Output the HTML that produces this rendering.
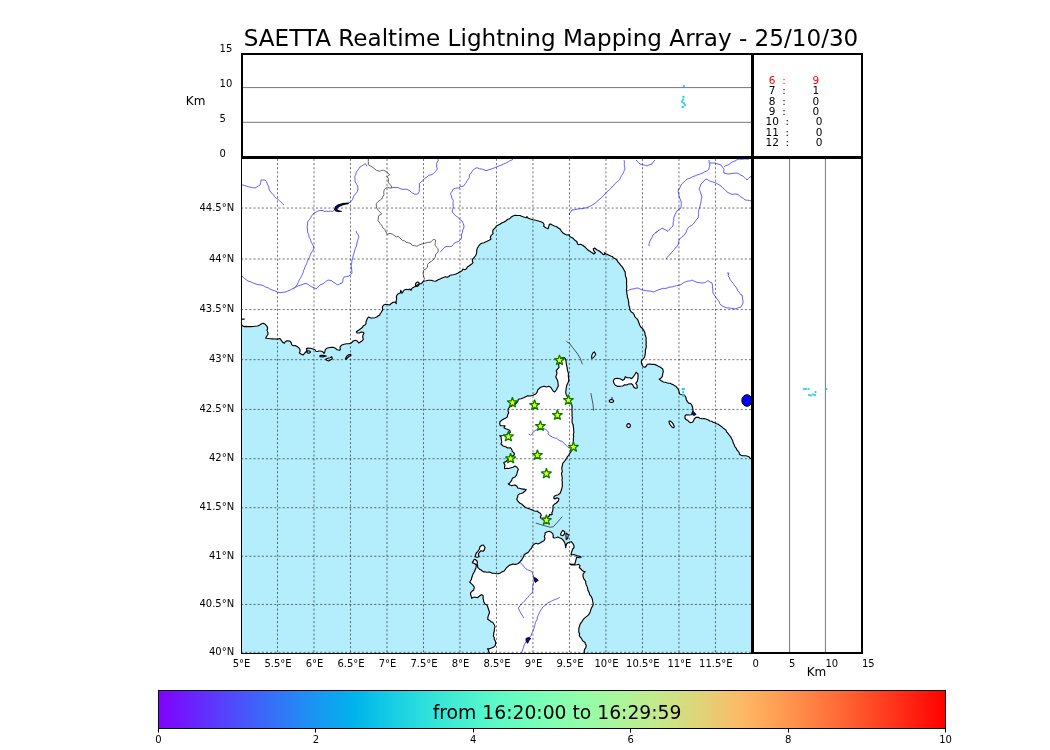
<!DOCTYPE html><html><head><meta charset="utf-8"><style>html,body{margin:0;padding:0;background:#fff;width:1050px;height:750px;overflow:hidden}</style></head><body><svg width="1050" height="750" viewBox="0 0 1050 750" style="position:absolute;left:0;top:0;will-change:transform">
<defs><clipPath id="mc"><rect x="241.5" y="157.5" width="510.5" height="495.5"/></clipPath>
<linearGradient id="rb" x1="0" x2="1" y1="0" y2="0"><stop offset="0.0000" stop-color="rgb(128,0,255)"/><stop offset="0.0312" stop-color="rgb(112,25,255)"/><stop offset="0.0625" stop-color="rgb(96,50,254)"/><stop offset="0.0938" stop-color="rgb(80,74,252)"/><stop offset="0.1250" stop-color="rgb(64,98,250)"/><stop offset="0.1562" stop-color="rgb(48,120,247)"/><stop offset="0.1875" stop-color="rgb(32,142,244)"/><stop offset="0.2188" stop-color="rgb(16,162,240)"/><stop offset="0.2500" stop-color="rgb(0,180,236)"/><stop offset="0.2812" stop-color="rgb(16,197,231)"/><stop offset="0.3125" stop-color="rgb(32,212,225)"/><stop offset="0.3438" stop-color="rgb(48,225,219)"/><stop offset="0.3750" stop-color="rgb(64,236,212)"/><stop offset="0.4062" stop-color="rgb(80,244,205)"/><stop offset="0.4375" stop-color="rgb(96,250,197)"/><stop offset="0.4688" stop-color="rgb(112,254,189)"/><stop offset="0.5000" stop-color="rgb(128,255,180)"/><stop offset="0.5312" stop-color="rgb(143,254,171)"/><stop offset="0.5625" stop-color="rgb(159,250,162)"/><stop offset="0.5938" stop-color="rgb(175,244,152)"/><stop offset="0.6250" stop-color="rgb(191,236,142)"/><stop offset="0.6562" stop-color="rgb(207,225,131)"/><stop offset="0.6875" stop-color="rgb(223,212,120)"/><stop offset="0.7188" stop-color="rgb(239,197,109)"/><stop offset="0.7500" stop-color="rgb(255,180,98)"/><stop offset="0.7812" stop-color="rgb(255,162,86)"/><stop offset="0.8125" stop-color="rgb(255,142,74)"/><stop offset="0.8438" stop-color="rgb(255,120,62)"/><stop offset="0.8750" stop-color="rgb(255,98,50)"/><stop offset="0.9062" stop-color="rgb(255,74,37)"/><stop offset="0.9375" stop-color="rgb(255,50,25)"/><stop offset="0.9688" stop-color="rgb(255,25,13)"/><stop offset="1.0000" stop-color="rgb(255,0,0)"/></linearGradient></defs>
<g clip-path="url(#mc)">
<rect x="241" y="157" width="512" height="497" fill="#b4eefd"/>
<polygon points="241.0,323.5 242.3,325.8 244.4,326.6 251.3,326.6 255.0,326.3 257.7,326.0 259.7,325.0 261.7,323.7 263.3,323.3 265.3,324.3 267.0,326.3 267.7,328.3 267.0,330.3 268.0,332.7 268.0,334.3 266.7,336.3 265.7,338.3 268.3,338.5 272.3,338.9 275.0,339.0 277.7,339.1 280.0,338.5 281.3,340.3 282.7,342.3 284.3,343.3 285.3,341.7 287.0,340.7 289.7,341.0 291.0,342.3 291.7,344.7 293.7,345.7 296.7,346.3 299.0,348.0 300.0,349.7 299.3,352.7 301.0,354.0 303.0,355.0 304.3,353.7 306.0,351.7 307.0,350.3 306.3,348.7 307.7,348.0 310.3,348.3 313.0,349.0 315.0,349.7 316.0,351.3 319.0,351.0 320.0,351.0 321.7,351.3 322.7,351.7 324.0,353.3 324.7,352.3 325.3,349.7 326.7,348.3 328.7,347.7 331.3,347.3 333.3,347.3 335.3,348.3 337.3,349.7 339.3,350.3 340.3,349.7 340.0,347.0 341.3,345.3 344.0,344.3 346.7,343.7 349.3,343.7 351.3,343.0 353.3,341.0 355.3,340.3 357.3,341.0 358.7,343.0 360.0,342.3 362.0,341.0 363.3,339.3 362.7,337.0 363.0,335.0 364.0,333.3 363.3,332.3 361.3,332.0 359.3,333.0 357.0,333.0 356.3,332.0 357.3,331.0 359.3,329.7 361.3,328.3 362.7,327.0 363.3,325.7 365.0,325.0 366.0,323.7 366.0,321.7 366.7,320.3 367.3,318.3 368.7,317.0 370.7,318.0 372.7,318.0 374.7,317.7 376.7,317.0 378.0,316.0 379.7,315.0 381.3,312.3 382.7,309.7 382.3,307.0 383.7,305.0 385.7,304.3 388.3,304.7 389.7,305.0 391.0,303.7 393.0,302.3 395.0,302.0 396.3,303.7 396.3,300.3 396.3,297.0 397.0,295.0 398.3,293.7 400.3,293.0 400.7,290.3 402.0,293.3 403.0,291.7 404.3,290.0 406.3,289.3 408.3,289.7 409.7,289.0 411.0,290.3 412.0,288.3 413.7,287.3 415.7,286.3 417.0,285.3 418.3,284.3 419.7,283.7 421.0,283.7 422.0,283.0 423.0,281.7 424.3,281.0 426.3,280.7 428.3,280.2 431.0,280.3 433.7,281.0 435.7,281.3 437.7,280.0 440.0,279.0 442.7,277.7 445.3,276.7 447.3,277.3 450.0,275.3 453.3,274.7 456.0,274.0 458.0,273.0 460.0,271.7 462.0,270.7 463.0,269.0 464.7,269.7 466.3,269.0 467.3,267.0 469.3,265.7 471.3,264.3 473.0,262.7 472.3,261.0 472.7,259.0 474.0,257.7 475.3,256.0 476.3,254.3 476.7,252.3 476.7,250.3 477.3,248.3 478.7,246.0 480.0,244.3 481.7,243.3 484.0,242.7 486.0,241.7 487.0,241.3 489.3,240.3 491.0,239.0 490.3,237.0 491.3,235.3 493.0,233.7 492.7,231.7 493.0,230.0 494.3,228.7 495.7,227.3 496.3,226.0 498.3,225.0 500.3,224.0 501.7,223.0 503.7,222.3 505.7,221.0 507.7,219.3 509.7,218.7 511.0,217.3 513.0,216.0 515.0,215.3 517.7,215.5 520.0,215.5 521.7,216.3 523.7,217.0 526.3,217.7 527.0,216.7 528.3,218.3 530.3,219.0 533.0,219.7 535.7,220.3 538.3,221.0 541.0,221.7 543.0,222.7 544.0,224.3 543.7,226.3 545.7,227.7 548.0,228.7 548.7,227.0 549.3,224.3 550.7,224.0 552.3,225.0 555.3,226.3 558.0,227.7 560.3,229.3 561.7,231.7 562.7,232.7 564.7,234.0 566.7,235.0 569.0,234.7 570.0,236.7 572.7,238.0 575.0,240.3 577.0,241.7 578.3,244.7 580.3,244.3 582.7,245.3 585.3,247.3 587.3,249.3 590.0,251.3 592.7,253.0 593.7,254.0 595.3,252.7 593.7,250.7 593.3,248.7 594.7,248.0 596.7,249.7 599.3,251.0 601.3,252.7 603.3,254.7 605.0,254.3 604.3,252.7 606.0,253.7 608.0,254.7 610.7,256.0 613.3,257.7 615.7,259.0 617.3,260.7 619.3,263.3 622.0,266.7 624.0,270.0 625.3,274.0 626.3,278.0 626.7,281.3 626.7,285.3 626.7,288.0 626.7,291.3 627.3,295.3 628.0,298.7 628.7,302.7 629.3,306.5 630.0,309.7 631.0,311.7 633.0,313.0 634.3,315.0 635.7,317.7 637.7,319.7 638.7,322.3 639.7,325.0 640.7,327.0 642.3,328.3 643.7,330.3 645.0,333.0 645.7,336.3 646.0,340.3 646.0,344.3 646.0,348.3 645.5,351.7 645.3,353.3 644.7,356.7 643.3,359.0 641.7,360.0 641.3,362.0 642.0,364.7 643.3,366.7 645.0,367.3 646.3,366.0 647.3,364.3 650.0,364.0 653.3,364.3 656.7,365.3 660.0,367.0 662.7,369.0 663.3,371.3 662.7,374.0 662.3,376.7 660.7,378.3 659.3,379.3 661.3,380.7 663.3,382.0 666.7,382.7 670.0,383.3 673.3,384.7 676.0,386.3 678.0,388.7 679.0,391.3 679.6,394.0 682.0,394.7 684.4,395.0 685.9,397.4 687.4,401.6 688.6,403.1 690.4,403.4 691.7,405.0 692.7,407.7 693.0,410.3 692.8,411.5 691.7,414.7 689.0,415.0 686.3,414.7 685.0,415.7 685.0,418.3 687.7,420.3 690.3,422.7 692.3,422.3 693.7,420.7 694.3,418.7 696.3,417.3 698.3,417.3 699.7,418.3 702.3,418.7 705.7,419.0 708.3,420.0 711.7,421.3 715.0,422.7 718.3,424.3 721.7,426.7 725.0,429.3 727.7,433.0 730.3,436.3 731.7,439.0 733.0,442.3 734.3,445.0 736.3,448.3 738.0,451.0 739.5,454.3 741.0,455.3 744.0,455.7 747.0,456.0 750.0,458.0 752.5,460.5 753.0,460.0 753.0,156.0 240.0,156.0 240.0,325.8" fill="#fff" stroke="none"/>
<polygon points="560.5,358.3 562.5,357.8 564.3,357.7 565.3,358.7 566.0,360.7 566.3,363.3 566.7,366.0 567.3,369.3 568.0,372.0 568.3,375.3 568.7,378.7 568.7,380.7 568.0,382.7 567.0,384.7 566.3,387.3 566.0,390.0 565.7,392.7 566.3,394.7 567.3,396.7 568.5,399.0 570.0,401.5 571.5,404.0 572.0,408.0 572.0,412.0 572.0,416.0 572.0,420.0 572.3,423.3 573.3,426.7 573.7,430.7 573.3,434.7 573.3,438.7 573.3,442.7 573.0,447.0 570.7,452.0 568.7,455.3 566.7,458.3 564.7,461.0 562.7,463.3 562.3,466.0 562.0,470.0 561.7,475.0 562.3,477.7 562.0,480.3 562.3,483.7 562.3,486.3 561.7,489.0 561.0,491.0 560.3,493.0 558.3,494.7 556.3,495.3 554.3,496.3 553.7,498.0 555.0,499.0 557.0,497.7 559.0,498.7 558.3,501.0 556.3,503.0 554.3,504.3 553.0,505.7 553.0,508.3 552.7,511.0 551.7,513.0 552.3,514.3 551.0,515.0 549.7,514.3 549.0,516.3 546.3,517.7 543.7,518.0 541.0,518.3 540.3,517.0 541.3,515.0 540.3,513.3 538.3,512.3 537.7,511.0 534.3,511.0 531.7,509.7 529.0,508.7 526.3,507.7 523.7,506.0 522.0,504.3 519.7,503.0 517.7,501.0 516.7,499.0 517.7,497.0 518.0,495.0 519.7,493.7 523.0,492.7 525.0,491.0 526.3,489.7 524.3,489.0 521.0,488.7 517.7,488.0 517.0,486.3 515.0,485.0 511.7,485.7 508.3,484.0 509.7,483.0 511.7,480.3 512.3,478.3 515.0,477.0 516.7,474.7 517.3,472.0 518.3,469.3 517.0,467.3 515.0,466.0 513.0,467.3 510.3,468.0 507.0,468.3 504.7,468.7 505.0,465.3 503.7,462.7 506.3,461.3 511.7,456.7 514.3,455.0 514.3,453.3 512.3,451.3 511.7,449.3 510.3,447.7 507.7,448.0 505.7,446.7 503.0,446.0 501.0,444.0 501.7,442.0 501.3,439.3 501.0,436.7 499.7,435.7 503.0,435.5 506.0,435.0 509.0,433.5 510.3,432.3 510.0,431.0 508.7,429.7 506.3,429.0 504.0,427.7 505.0,425.7 503.0,425.7 500.3,425.7 499.7,423.7 500.0,421.7 501.7,420.3 503.7,419.0 505.7,418.0 507.3,417.0 507.7,414.7 508.7,412.7 508.0,411.0 508.3,408.7 509.7,407.0 512.3,405.7 515.0,404.3 516.3,403.0 517.7,401.7 518.3,399.3 521.0,398.7 523.7,397.7 525.7,396.7 527.7,395.7 530.3,396.0 533.0,395.3 535.7,394.0 537.0,392.3 537.7,390.0 539.3,388.3 541.3,387.0 544.0,386.3 546.7,387.0 548.7,386.3 550.7,387.3 552.0,389.3 553.3,391.3 554.7,392.0 556.3,390.0 557.3,388.0 558.3,386.0 558.0,383.3 557.7,380.7 556.7,378.7 555.7,376.7 556.3,375.3 557.0,373.3 556.3,370.7 557.3,369.3 559.0,367.3 558.7,364.7 559.5,361.0" fill="#fff" stroke="none"/>
<polygon points="489.3,656.0 489.3,652.7 488.3,650.0 487.5,648.8 490.7,648.3 493.3,647.3 495.3,645.3 495.7,642.7 494.3,639.3 493.3,636.0 493.7,632.7 494.3,629.3 495.0,626.7 494.3,624.7 492.7,622.3 490.0,620.7 487.7,619.3 488.0,616.7 489.3,613.3 488.7,610.0 488.0,607.7 487.0,605.0 485.0,604.0 483.7,601.7 483.0,598.3 482.7,595.0 481.3,594.7 479.3,596.3 477.3,597.7 474.7,597.0 472.7,597.5 471.7,598.3 471.0,595.7 470.7,592.7 472.0,591.3 473.7,590.0 474.3,587.3 473.3,585.7 471.3,583.7 469.7,582.0 471.3,579.7 471.7,577.7 472.7,575.0 473.0,574.0 474.7,571.3 476.0,568.0 476.3,565.0 474.5,563.5 472.3,562.7 473.7,560.0 475.0,559.3 477.0,561.0 477.0,564.0 477.7,567.3 479.7,569.3 482.3,571.0 485.7,572.0 489.7,572.0 492.3,573.3 496.3,573.7 500.3,573.0 503.7,571.3 505.7,568.7 507.7,566.7 511.0,564.7 514.3,564.3 517.7,563.7 519.7,562.3 521.7,560.0 523.3,557.3 524.0,555.0 526.3,553.3 529.0,551.3 530.0,549.7 532.0,547.0 534.0,544.3 536.0,543.3 538.0,544.0 540.0,543.0 542.0,541.7 544.0,540.7 545.0,538.7 544.3,536.3 545.0,533.0 546.7,532.0 549.3,531.3 551.3,532.3 552.7,533.7 553.3,535.7 553.0,537.0 554.0,538.0 556.0,537.7 558.0,537.0 559.3,537.7 560.7,538.3 562.0,539.0 563.3,540.3 564.7,542.3 565.3,545.0 565.7,547.7 566.0,545.7 566.7,543.7 568.0,542.7 570.0,542.0 571.3,541.7 572.7,543.3 574.0,545.7 574.0,547.7 572.7,549.0 572.0,551.0 571.3,553.0 571.0,555.0 573.3,554.5 575.3,555.0 577.3,555.7 579.3,556.3 581.3,557.0 579.3,557.7 576.7,557.0 576.0,559.7 575.3,562.3 574.7,564.3 572.7,564.3 570.0,564.0 571.3,565.0 575.3,565.0 578.7,564.3 580.0,565.7 579.3,567.7 582.0,570.3 585.3,571.7 583.3,573.7 582.9,575.0 583.4,577.9 585.7,581.3 586.8,585.9 588.0,590.4 589.7,594.9 592.0,598.3 593.1,602.9 592.5,606.3 590.8,609.7 589.7,613.1 587.4,615.9 585.1,617.6 582.3,621.0 580.0,624.4 578.9,627.8 578.9,632.4 580.0,636.9 582.3,640.3 585.1,642.6 586.3,645.4 584.6,649.4 584.0,656.0 585.8,655.0 488.6,655.0" fill="#fff" stroke="none"/>
<polygon points="613.7,380.0 614.7,378.7 617.3,378.3 620.0,378.7 622.7,380.3 624.3,379.3 625.3,376.7 627.3,377.7 630.0,377.7 631.3,378.7 633.0,377.3 634.7,374.7 636.3,372.3 638.0,374.0 638.0,378.0 637.3,381.3 635.7,383.3 637.0,385.3 637.3,388.0 635.3,388.3 633.7,387.0 632.7,384.7 631.3,383.7 628.7,384.0 626.7,385.0 624.7,384.7 622.7,386.0 620.0,386.3 617.3,386.3 615.3,385.3 614.0,383.3 613.3,381.3" fill="#fff" stroke="none"/>
<polygon points="475.0,556.7 475.7,554.7 476.3,553.0 478.0,551.3 479.3,549.3 480.0,546.7 481.7,545.3 483.3,545.0 485.0,547.3 484.3,550.0 483.0,551.3 481.0,550.7 479.7,552.0 478.3,554.0 479.0,556.7 477.0,557.3" fill="#fff" stroke="none"/>
<polygon points="591.7,356.7 592.0,354.7 593.0,353.0 594.3,351.8 595.7,354.3 594.7,356.0 593.0,358.0 591.7,358.3" fill="#fff" stroke="none"/>
<polygon points="613.6,401.0 613.3,401.7 612.5,402.2 611.4,402.4 610.3,402.2 609.5,401.7 609.2,401.0 609.5,400.3 610.3,399.8 611.4,399.6 612.5,399.8 613.3,400.3" fill="#fff" stroke="none"/>
<polygon points="630.4,425.6 630.2,426.6 629.5,427.3 628.6,427.6 627.7,427.3 627.0,426.6 626.8,425.6 627.0,424.6 627.7,423.9 628.6,423.6 629.5,423.9 630.2,424.6" fill="#fff" stroke="none"/>
<polygon points="673.9,427.6 673.0,427.6 671.7,426.7 670.4,425.2 669.4,423.4 669.0,421.9 669.3,421.0 670.2,421.0 671.5,421.9 672.8,423.4 673.8,425.2 674.2,426.7" fill="#fff" stroke="none"/>
<polygon points="325.7,359.3 328.0,358.3 330.0,357.7 331.7,356.7 332.3,358.7 330.7,359.7 328.7,361.0 326.7,360.3" fill="#fff" stroke="none"/>
<polygon points="320.0,355.5 323.0,355.2 326.3,356.0 323.0,356.9 320.0,356.8" fill="#fff" stroke="none"/>
<polygon points="345.3,359.0 346.7,356.3 348.7,354.7 350.7,354.3 351.0,355.3 349.3,356.3 347.3,358.0 346.0,359.3" fill="#fff" stroke="none"/>
<polygon points="310.4,352.0 310.2,352.6 309.5,353.0 308.6,353.1 307.7,353.0 307.0,352.6 306.8,352.0 307.0,351.4 307.7,351.0 308.6,350.9 309.5,351.0 310.2,351.4" fill="#fff" stroke="none"/>
<polygon points="560.7,533.7 562.7,530.3 564.7,531.7 564.3,534.3 562.7,535.7 560.7,535.0" fill="#fff" stroke="none"/>
<polygon points="566.0,533.0 568.3,534.7 567.7,538.3 566.3,539.7 566.0,535.7" fill="#fff" stroke="none"/>
<polygon points="418.8,285.1 418.0,285.9 417.0,286.4 416.2,286.2 415.6,285.5 415.5,284.5 415.8,283.3 416.6,282.5 417.6,282.0 418.4,282.2 419.0,282.9 419.1,283.9" fill="#fff" stroke="none"/>
<polyline points="242.0,185.0 244.1,185.3 246.0,186.0 248.0,186.7 250.0,187.0 252.5,187.6 255.0,188.0 256.8,187.1 258.3,186.0 260.0,185.0 260.7,182.5 261.0,180.0 263.0,180.0 265.0,180.0 266.2,181.3 267.0,183.0 267.8,185.0 268.8,186.9 269.0,189.1 270.0,191.0 271.0,192.6 272.5,193.7 273.7,195.1 274.7,196.7 276.0,198.0 277.7,199.2 279.3,200.6 280.9,202.0 282.5,203.5 284.0,205.0" fill="none" stroke="#4f4fff" stroke-width="0.9" stroke-linejoin="round"/>
<polyline points="348.2,203.2 350.9,201.7 352.4,199.6 353.5,196.9 354.3,195.0 356.0,193.7 357.3,191.7 358.0,189.0 357.7,186.3 356.3,183.7 355.0,181.7 355.1,179.7 354.8,177.7 355.0,175.7 355.7,175.0 356.3,172.3 357.7,170.3 359.0,168.3 360.0,167.0 361.7,166.0 363.7,164.7 365.0,163.7 366.0,164.3 367.0,166.3" fill="none" stroke="#4f4fff" stroke-width="0.9" stroke-linejoin="round"/>
<polyline points="320.0,210.6 323.0,210.4 324.2,211.4 326.3,211.2 328.4,211.5 330.5,211.2 332.6,211.4 334.1,210.2" fill="none" stroke="#4f4fff" stroke-width="0.9" stroke-linejoin="round"/>
<polyline points="320.0,210.6 317.9,211.1 316.0,212.2 314.0,213.0 312.7,214.5 311.5,216.1 310.6,217.9 309.4,219.6 308.0,221.0 307.6,223.0 307.6,225.0 307.0,227.0 307.5,229.0 307.5,231.1 307.9,233.1 308.9,234.9 309.0,237.0 310.1,238.7 310.8,240.6 311.3,242.6 312.6,244.2 313.3,246.1 314.0,248.0 313.2,249.8 312.2,251.5 311.0,253.0 310.3,254.7 309.8,256.5 308.9,258.2 308.0,259.8 307.3,261.5 306.8,263.3 306.0,265.0 305.0,266.9 304.4,269.0 303.4,270.9 303.0,273.1 302.0,275.0 301.2,276.7 300.3,278.3 299.2,279.9 298.6,281.6 297.8,283.3 297.0,285.0 295.8,286.5 294.4,287.8 293.0,289.0" fill="none" stroke="#4f4fff" stroke-width="0.9" stroke-linejoin="round"/>
<polyline points="242.0,276.0 243.3,277.5 244.8,278.7 246.4,279.9 248.0,281.0 250.1,281.6 252.0,282.4 253.9,283.4 256.0,284.0 257.9,284.7 260.1,284.7 262.1,285.3 264.0,286.0 265.9,287.2 268.1,287.8 270.0,289.1 272.0,290.0 274.0,290.5 276.0,291.4 277.9,292.2 280.0,292.6 282.0,292.5 284.0,292.1 286.0,292.0 287.9,290.9 290.0,290.1 292.0,289.0 294.0,288.1 296.0,286.9 298.0,286.0 300.0,285.3 302.0,284.7 303.9,283.9 306.0,283.4 308.1,284.4 310.0,285.8 312.0,287.0 314.1,287.7 316.0,289.0 317.4,287.7 318.8,286.5 320.0,285.0 322.1,284.2 324.0,283.0 325.9,281.4 328.0,280.0 330.0,280.4 332.0,281.0 333.3,282.2 335.1,282.9 336.3,284.3 338.0,285.0 339.9,283.8 342.0,283.0 342.9,281.1 343.0,278.9 344.0,277.0 346.5,276.6 349.0,276.0 350.7,274.7 352.0,273.0 351.8,271.0 351.6,269.0 351.5,267.0 351.0,265.0 351.8,263.1 351.8,260.9 352.5,259.0 353.0,257.0 353.3,254.9 354.1,253.0 354.6,250.9 355.2,248.9 356.0,247.0 356.7,245.0 356.9,242.9 357.6,240.9 358.1,238.9 359.0,237.0 358.2,234.9 356.8,233.1 356.0,231.0" fill="none" stroke="#4f4fff" stroke-width="0.9" stroke-linejoin="round"/>
<polyline points="391.7,187.7 395.0,187.3 398.3,187.7 401.0,189.0 403.0,189.4 405.0,189.1 407.0,189.3 409.7,190.7 412.3,193.0 415.0,194.3 417.7,194.0 419.3,191.7 419.3,188.3 419.5,186.0 419.3,183.7 421.0,182.2 423.3,180.0 424.7,178.3 426.7,177.3 428.7,175.3 430.7,175.0 433.3,173.7 435.7,171.3 437.3,169.0 436.7,167.0 436.7,163.7 437.0,162.0 438.3,161.0 437.7,158.0" fill="none" stroke="#4f4fff" stroke-width="0.9" stroke-linejoin="round"/>
<polyline points="440.1,252.3 442.2,249.9 443.5,248.6 444.6,247.2 447.0,246.3 449.4,246.6 451.8,246.3 453.0,244.8 454.2,243.3 456.0,242.3 458.0,241.7 460.0,240.3 461.3,238.7 461.7,237.0 461.3,235.0 462.5,232.0 462.7,229.9 463.8,228.1 464.0,226.0 463.2,223.4 462.0,221.0 460.3,220.0 459.1,218.3 457.6,217.1 456.0,216.0 454.5,214.8 453.6,213.1 452.0,212.0 452.6,209.5 453.3,207.0 453.0,203.7 453.3,200.3 452.0,198.3 451.3,195.7 450.3,193.3 452.0,191.7 453.3,189.0 455.3,188.3 457.3,188.1 459.3,188.0 460.0,186.3 463.3,186.3 465.3,183.7 466.4,182.1 467.3,180.3 469.3,177.7 469.3,175.0 471.3,173.0 472.7,170.3 474.7,168.7 477.0,167.7 479.3,168.7 482.7,169.3 486.0,170.7 488.0,170.1 490.0,169.3 492.1,168.8 494.0,168.0 495.9,167.1 498.0,166.5 499.9,165.5 502.0,165.0 503.9,163.9 506.0,163.0 508.0,162.0 509.5,160.9 511.3,160.2 513.0,159.4" fill="none" stroke="#4f4fff" stroke-width="0.9" stroke-linejoin="round"/>
<polyline points="624.0,160.0 624.4,161.8 624.3,163.6 624.3,165.4 624.7,167.2 625.0,169.0 624.2,170.7 623.5,172.4 622.7,174.1 621.4,175.5 620.7,177.3 620.0,179.0 618.8,180.5 617.3,181.6 615.9,182.9 614.5,184.1 613.4,185.8 612.0,187.0 610.8,188.4 609.5,189.8 608.0,191.0 606.5,192.1 605.2,193.6 604.0,195.0 602.7,196.5 601.2,197.6 599.9,199.1 598.4,200.3 596.9,201.4 595.6,202.9 594.0,204.0 592.1,205.1 590.1,206.2 588.0,207.0 586.0,208.0 584.0,208.0 582.0,208.7 580.0,208.7 578.0,209.0 576.0,209.4 574.0,209.8 572.0,210.0 570.6,212.1 569.0,214.0 570.0,215.0" fill="none" stroke="#4f4fff" stroke-width="0.9" stroke-linejoin="round"/>
<polyline points="636.0,160.0 637.5,161.2 638.5,162.8 640.0,164.0 641.7,164.8 643.5,164.9 645.3,165.3 647.0,166.0 649.4,164.8 652.0,164.0 653.3,161.8 655.0,160.0" fill="none" stroke="#4f4fff" stroke-width="0.9" stroke-linejoin="round"/>
<polyline points="659.0,230.0 657.6,231.4 656.0,232.5 654.5,233.7 653.0,235.0 652.2,237.1 651.0,239.0 650.0,241.0 649.2,243.4 649.0,246.0" fill="none" stroke="#4f4fff" stroke-width="0.9" stroke-linejoin="round"/>
<polyline points="626.0,291.0 628.1,290.6 630.0,289.6 632.0,289.0 634.0,288.9 636.0,288.2 638.0,288.0 640.0,289.0 642.0,290.0 644.0,290.2 646.0,290.7 648.0,291.0 650.0,291.0 652.0,291.6 654.0,292.0 655.9,290.9 658.0,290.0 661.0,289.0 662.9,288.3 665.0,288.4 667.1,288.1 669.0,287.2 671.0,287.0 672.8,286.7 674.6,286.2 676.4,285.7 678.2,285.5 680.0,285.0 681.7,284.1 683.3,282.9 685.0,282.0 686.7,281.4 688.5,281.0 690.3,280.8 692.0,280.0 693.9,281.1 695.9,281.9 698.0,282.6 700.5,282.8 703.0,283.0 704.8,282.5 706.5,281.7 708.0,280.6 709.9,282.0 712.0,283.0 712.4,285.0 712.5,287.0 712.8,289.0 712.8,291.0 713.0,293.0 713.8,294.6 715.0,296.0 716.1,297.4 717.0,299.0 718.2,300.4 719.2,301.9 719.8,303.6 721.0,305.0 722.9,306.3 724.9,307.2 727.0,308.0 729.0,307.9 731.0,308.3 733.0,308.5 735.0,309.0 737.0,308.3 738.9,307.5 741.0,307.0 742.0,305.0 743.0,303.0 743.0,301.0 742.6,299.0 742.4,297.0 742.0,295.0 741.0,295.0 740.0,293.5 739.0,292.0 737.7,290.7 737.0,289.0 736.0,287.1 734.5,285.5 733.5,283.6 732.0,282.0 730.9,280.6 729.8,279.2 729.3,277.3 728.0,276.0 729.0,273.0 727.0,273.0" fill="none" stroke="#4f4fff" stroke-width="0.9" stroke-linejoin="round"/>
<polyline points="655.0,233.0 656.9,231.9 658.4,230.3 660.4,229.5 662.0,228.0 664.0,229.1 666.0,230.2 668.0,231.4 669.3,230.1 670.3,228.5 671.6,227.2 673.0,226.0 673.1,224.2 673.2,222.4 673.7,220.6 673.7,218.8 674.0,217.0 674.9,215.0 675.9,212.9 677.0,211.0 678.9,209.3 681.0,208.0 681.2,205.7 681.3,203.3 681.0,201.0 679.9,198.5 679.0,196.0 678.7,193.5 678.0,191.0 678.9,188.9 680.2,187.1 681.0,185.0 682.4,183.4 684.0,182.0 685.5,180.5 687.0,179.0 689.1,178.5 691.1,177.7 692.9,176.5 695.0,176.0 696.9,175.0 699.0,174.5 700.9,173.6 703.0,173.0 704.4,171.8 706.2,171.3 707.7,170.3 709.0,169.0 709.2,166.9 710.0,165.0 709.2,162.6 709.0,160.0" fill="none" stroke="#4f4fff" stroke-width="0.9" stroke-linejoin="round"/>
<polyline points="710.0,163.0 712.5,163.0 715.0,163.0 717.0,163.8 719.0,164.4 721.0,165.0 722.4,167.1 724.0,169.0 723.7,171.0 724.0,173.0 726.5,173.7 729.0,174.0 731.0,173.5 733.0,173.3 735.0,173.2 737.0,173.0 739.0,173.9 740.9,175.3 743.0,176.0 744.2,177.4 745.7,178.7 747.0,180.0 748.4,178.4 750.0,177.0 752.0,176.0" fill="none" stroke="#4f4fff" stroke-width="0.9" stroke-linejoin="round"/>
<polyline points="724.0,167.0 725.6,165.7 727.6,165.2 729.3,164.1 731.0,163.0 732.8,161.7 735.0,161.0 736.9,159.8 739.0,159.0 741.0,159.3 743.0,159.2 745.0,158.9 747.0,159.1 749.0,159.0" fill="none" stroke="#4f4fff" stroke-width="0.9" stroke-linejoin="round"/>
<polyline points="666.0,259.0 667.3,257.3 668.6,255.6 670.3,254.3 671.5,252.5 673.0,251.0 674.3,249.6 675.3,247.8 677.0,246.7 678.0,245.0 678.6,242.5 679.0,240.0 680.4,238.4 681.8,236.8 683.7,235.7 685.0,234.0 686.2,232.1 686.9,229.9 688.0,228.0 689.3,226.5 691.2,225.8 692.7,224.5 694.0,223.0 695.3,221.3 696.5,219.5 698.0,218.0 698.4,216.2 698.7,214.4 698.5,212.6 698.7,210.8 699.0,209.0 699.8,207.1 700.2,205.0 700.8,203.1 701.1,201.0 701.3,199.0 702.0,197.0 701.0,194.0 700.3,191.4 699.0,189.0 700.2,186.6 701.0,184.0 702.8,182.5 704.3,180.6 706.0,179.0 707.8,179.6 709.4,180.8 711.1,181.5 713.0,182.0 715.1,182.7 717.1,183.7 719.1,184.8 721.0,186.0 722.4,187.6 724.1,188.9 725.7,190.3 727.0,192.0 729.0,193.0 731.0,194.0 733.0,194.3 735.0,194.0 737.0,194.0 739.2,195.3 741.0,197.0 743.2,198.3 745.0,200.0 747.4,200.2 749.7,200.6 752.0,201.0" fill="none" stroke="#4f4fff" stroke-width="0.9" stroke-linejoin="round"/>
<polyline points="528.7,434.0 530.7,435.3 532.2,433.8 533.3,432.0 534.9,430.7 536.7,429.7 540.0,428.7 542.0,428.4 544.0,428.7 545.8,429.5 547.3,430.7 548.7,432.3 548.0,434.0 550.0,435.7 552.7,437.3 554.7,438.0 556.7,438.3 558.2,439.7 560.0,440.7 562.7,441.7 563.8,443.2 565.3,444.3 566.6,445.9 568.0,447.3 570.7,448.7" fill="none" stroke="#4f4fff" stroke-width="0.9" stroke-linejoin="round"/>
<polyline points="520.1,562.3 521.3,563.8 522.8,565.0 524.1,566.8 525.5,568.6 527.2,569.6 529.1,570.4 531.8,571.3 532.7,574.0 533.5,575.7 533.6,577.6 534.5,580.0 533.8,582.2 533.1,584.4 532.7,586.6 532.7,589.3 532.7,592.0 530.9,593.8 529.1,595.6 527.7,597.5 526.1,599.2 524.6,601.0 523.1,602.5 521.4,603.8 520.1,605.5 518.3,608.2 519.2,610.0 520.1,611.8 521.5,614.0 522.8,616.3 523.7,618.1" fill="none" stroke="#4f4fff" stroke-width="0.9" stroke-linejoin="round"/>
<polyline points="559.7,597.4 557.7,598.5 555.6,599.4 553.4,600.1 551.6,601.1 549.9,602.1 548.0,602.8 546.5,604.1 545.2,605.4 543.5,606.4 542.1,608.2 540.8,610.0 539.9,611.8 539.1,613.6 538.1,615.4 537.3,617.1 537.2,619.1 536.3,620.8 535.4,622.5 535.1,624.4 534.5,626.2 534.1,628.1 533.4,629.8 532.7,631.6 531.8,633.4 531.2,635.4 530.0,637.0 528.4,638.4 527.0,640.0 525.7,642.1 524.6,644.2 523.9,646.0 523.3,647.8 522.8,649.6 522.1,651.3 521.9,653.2" fill="none" stroke="#4f4fff" stroke-width="0.9" stroke-linejoin="round"/>
<polyline points="368.3,156.0 368.3,161.7 368.3,164.7 371.0,166.3 373.7,168.0 376.3,170.3 379.7,171.3 381.7,170.3 383.7,170.3 386.3,171.7 388.3,173.3 389.7,174.7 388.0,175.7 387.0,176.7 388.3,178.3 388.3,182.3 389.7,184.3 391.3,185.7 391.7,188.0 389.7,188.0 387.7,187.3 385.7,188.0 384.3,189.7 383.7,192.3 384.0,194.7 382.7,197.0 381.7,199.0 380.3,200.0 378.0,201.7 376.3,203.3 376.3,206.0 376.7,208.0 378.7,210.7 381.7,214.0 378.7,215.7 378.3,218.0 378.0,220.7 380.0,223.3 382.0,225.7 382.7,227.7 384.7,229.3 386.0,232.0 387.3,234.3 390.0,233.3 392.7,234.3 396.3,237.0 398.0,236.3 400.0,238.0 402.3,240.3 404.7,241.0 406.7,242.7 408.0,242.7 411.0,243.6 412.2,245.4 414.6,245.7 417.0,246.3 419.4,244.8 422.4,243.9 424.8,243.3 427.8,242.4 430.8,242.1 432.0,240.6 433.7,239.3 435.5,240.0 435.3,242.4 435.0,245.1 436.2,246.9 438.0,248.7 438.3,251.1 437.4,252.9 435.6,254.4 435.3,257.1 433.8,259.2 431.4,261.3 429.0,262.8 427.5,264.6 427.5,267.0 426.0,268.8 423.9,270.0 423.0,272.4 423.3,274.8 423.9,277.2 424.8,279.6" fill="none" stroke="#555" stroke-width="0.9" stroke-linejoin="round"/>
<polyline points="566.4,341.4 569.6,343.5 572.8,347.8 577.0,353.1 580.3,358.5 582.4,364.3" fill="none" stroke="#3a3a3a" stroke-width="0.85"/>
<polyline points="590.9,393.1 592.0,399.0 593.0,404.3 593.6,410.7" fill="none" stroke="#3a3a3a" stroke-width="0.85"/>
<polyline points="535.7,523.0 542.0,525.0 550.0,527.2 553.3,526.8 555.0,525.0 562.3,516.7" fill="none" stroke="#3a3a3a" stroke-width="0.85"/>
<polyline points="241.0,323.5 242.3,325.8 244.4,326.6 246.1,326.4 247.9,326.6 249.6,326.5 251.3,326.6 253.2,326.5 255.0,326.3 257.7,326.0 259.7,325.0 261.7,323.7 263.3,323.3 265.3,324.3 267.0,326.3 267.7,328.3 267.0,330.3 268.0,332.7 268.0,334.3 266.7,336.3 265.7,338.3 268.3,338.5 270.3,338.8 272.3,338.9 275.0,339.0 277.7,339.1 280.0,338.5 281.3,340.3 282.7,342.3 284.3,343.3 285.3,341.7 287.0,340.7 289.7,341.0 291.0,342.3 291.7,344.7 293.7,345.7 295.3,345.6 296.7,346.3 299.0,348.0 300.0,349.7 300.1,351.3 299.3,352.7 301.0,354.0 303.0,355.0 304.3,353.7 306.0,351.7 307.0,350.3 306.3,348.7 307.7,348.0 310.3,348.3 313.0,349.0 315.0,349.7 316.0,351.3 317.5,351.5 319.0,351.0 320.0,351.0 321.7,351.3 322.7,351.7 324.0,353.3 324.7,352.3 325.3,349.7 326.7,348.3 328.7,347.7 331.3,347.3 333.3,347.3 335.3,348.3 337.3,349.7 339.3,350.3 340.3,349.7 340.0,347.0 341.3,345.3 344.0,344.3 346.7,343.7 349.3,343.7 351.3,343.0 353.3,341.0 355.3,340.3 357.3,341.0 358.7,343.0 360.0,342.3 362.0,341.0 363.3,339.3 362.7,337.0 363.0,335.0 364.0,333.3 363.3,332.3 361.3,332.0 359.3,333.0 357.0,333.0 356.3,332.0 357.3,331.0 359.3,329.7 361.3,328.3 362.7,327.0 363.3,325.7 365.0,325.0 366.0,323.7 366.0,321.7 366.7,320.3 367.3,318.3 368.7,317.0 370.7,318.0 372.7,318.0 374.7,317.7 376.7,317.0 378.0,316.0 379.7,315.0 380.3,313.5 381.3,312.3 382.7,309.7 382.3,307.0 383.7,305.0 385.7,304.3 388.3,304.7 389.7,305.0 391.0,303.7 393.0,302.3 395.0,302.0 396.3,303.7 396.1,302.0 396.3,300.3 396.7,298.6 396.3,297.0 397.0,295.0 398.3,293.7 400.3,293.0 400.7,290.3 401.4,291.8 402.0,293.3 403.0,291.7 404.3,290.0 406.3,289.3 408.3,289.7 409.7,289.0 411.0,290.3 412.0,288.3 413.7,287.3 415.7,286.3 417.0,285.3 418.3,284.3 419.7,283.7 421.0,283.7 422.0,283.0 423.0,281.7 424.3,281.0 426.3,280.7 428.3,280.2 431.0,280.3 433.7,281.0 435.7,281.3 437.7,280.0 440.0,279.0 442.7,277.7 445.3,276.7 447.3,277.3 448.8,276.5 450.0,275.3 451.6,275.0 453.3,274.7 456.0,274.0 458.0,273.0 460.0,271.7 462.0,270.7 463.0,269.0 464.7,269.7 466.3,269.0 467.3,267.0 469.3,265.7 471.3,264.3 473.0,262.7 472.3,261.0 472.7,259.0 474.0,257.7 475.3,256.0 476.3,254.3 476.7,252.3 476.7,250.3 477.3,248.3 478.7,246.0 480.0,244.3 481.7,243.3 484.0,242.7 486.0,241.7 487.0,241.3 489.3,240.3 491.0,239.0 490.3,237.0 491.3,235.3 493.0,233.7 492.7,231.7 493.0,230.0 494.3,228.7 495.7,227.3 496.3,226.0 498.3,225.0 500.3,224.0 501.7,223.0 503.7,222.3 505.7,221.0 507.7,219.3 509.7,218.7 511.0,217.3 513.0,216.0 515.0,215.3 517.7,215.5 520.0,215.5 521.7,216.3 523.7,217.0 526.3,217.7 527.0,216.7 528.3,218.3 530.3,219.0 533.0,219.7 535.7,220.3 538.3,221.0 541.0,221.7 543.0,222.7 544.0,224.3 543.7,226.3 545.7,227.7 548.0,228.7 548.7,227.0 549.3,224.3 550.7,224.0 552.3,225.0 553.8,225.8 555.3,226.3 556.8,226.7 558.0,227.7 560.3,229.3 561.7,231.7 562.7,232.7 564.7,234.0 566.7,235.0 569.0,234.7 570.0,236.7 572.7,238.0 573.8,239.2 575.0,240.3 577.0,241.7 577.3,243.3 578.3,244.7 580.3,244.3 582.7,245.3 584.0,246.3 585.3,247.3 587.3,249.3 588.5,250.5 590.0,251.3 591.3,252.3 592.7,253.0 593.7,254.0 595.3,252.7 593.7,250.7 593.3,248.7 594.7,248.0 596.7,249.7 599.3,251.0 601.3,252.7 603.3,254.7 605.0,254.3 604.3,252.7 606.0,253.7 608.0,254.7 610.7,256.0 612.2,256.5 613.3,257.7 615.7,259.0 617.3,260.7 618.1,262.1 619.3,263.3 620.6,265.1 622.0,266.7 623.2,268.3 624.0,270.0 625.1,271.9 625.3,274.0 625.5,276.1 626.3,278.0 626.5,279.6 626.7,281.3 626.5,283.3 626.7,285.3 626.7,288.0 626.4,289.6 626.7,291.3 626.8,293.3 627.3,295.3 627.3,297.1 628.0,298.7 628.4,300.7 628.7,302.7 628.7,304.6 629.3,306.5 629.7,308.1 630.0,309.7 631.0,311.7 633.0,313.0 634.3,315.0 634.7,316.5 635.7,317.7 637.7,319.7 638.7,322.3 639.7,325.0 640.7,327.0 642.3,328.3 643.7,330.3 645.0,333.0 645.0,334.7 645.7,336.3 646.2,338.3 646.0,340.3 646.3,342.3 646.0,344.3 646.3,346.3 646.0,348.3 645.3,349.9 645.5,351.7 645.3,353.3 645.1,355.0 644.7,356.7 643.3,359.0 641.7,360.0 641.3,362.0 642.0,364.7 643.3,366.7 645.0,367.3 646.3,366.0 647.3,364.3 650.0,364.0 651.6,364.3 653.3,364.3 655.1,364.6 656.7,365.3 658.3,366.2 660.0,367.0 661.4,367.9 662.7,369.0 663.3,371.3 662.7,374.0 662.3,376.7 660.7,378.3 659.3,379.3 661.3,380.7 663.3,382.0 665.0,382.2 666.7,382.7 668.3,383.1 670.0,383.3 671.6,384.1 673.3,384.7 674.5,385.8 676.0,386.3 676.9,387.6 678.0,388.7 679.0,391.3 679.6,394.0 682.0,394.7 684.4,395.0 685.9,397.4 686.3,399.6 687.4,401.6 688.6,403.1 690.4,403.4 691.7,405.0 692.7,407.7 693.0,410.3 692.8,411.5 691.9,413.0 691.7,414.7 689.0,415.0 686.3,414.7 685.0,415.7 685.0,418.3 686.1,419.7 687.7,420.3 688.9,421.6 690.3,422.7 692.3,422.3 693.7,420.7 694.3,418.7 696.3,417.3 698.3,417.3 699.7,418.3 702.3,418.7 704.0,418.5 705.7,419.0 708.3,420.0 709.9,421.0 711.7,421.3 713.2,422.4 715.0,422.7 716.5,423.8 718.3,424.3 720.0,425.6 721.7,426.7 723.2,428.2 725.0,429.3 726.1,430.4 726.6,431.9 727.7,433.0 728.9,434.7 730.3,436.3 731.2,437.6 731.7,439.0 732.7,440.5 733.0,442.3 734.3,445.0 735.0,446.8 736.3,448.3 736.8,449.9 738.0,451.0 739.1,452.5 739.5,454.3 741.0,455.3 742.5,455.8 744.0,455.7 745.5,455.8 747.0,456.0 748.7,456.7 750.0,458.0 751.4,459.1 752.5,460.5" fill="none" stroke="#000" stroke-width="1.15" stroke-linejoin="round"/>
<polyline points="489.3,656.0 489.4,654.4 489.3,652.7 488.3,650.0 487.5,648.8 489.1,648.8 490.7,648.3 493.3,647.3 495.3,645.3 495.7,642.7 495.2,640.9 494.3,639.3 494.2,637.5 493.3,636.0 493.7,634.4 493.7,632.7 494.4,631.1 494.3,629.3 495.0,626.7 494.3,624.7 492.7,622.3 491.1,621.9 490.0,620.7 487.7,619.3 488.0,616.7 488.6,615.0 489.3,613.3 489.4,611.6 488.7,610.0 488.0,607.7 487.0,605.0 485.0,604.0 483.7,601.7 483.5,600.0 483.0,598.3 483.2,596.6 482.7,595.0 481.3,594.7 479.3,596.3 477.3,597.7 474.7,597.0 472.7,597.5 471.7,598.3 471.0,595.7 470.5,594.2 470.7,592.7 472.0,591.3 473.7,590.0 474.3,587.3 473.3,585.7 471.3,583.7 469.7,582.0 471.3,579.7 471.7,577.7 472.7,575.0 473.0,574.0 473.8,572.6 474.7,571.3 475.1,569.6 476.0,568.0 476.2,566.5 476.3,565.0 474.5,563.5 472.3,562.7 473.1,561.4 473.7,560.0 475.0,559.3 477.0,561.0 477.4,562.5 477.0,564.0 477.6,565.6 477.7,567.3 479.7,569.3 481.1,570.0 482.3,571.0 483.9,571.9 485.7,572.0 487.7,572.2 489.7,572.0 492.3,573.3 494.3,573.2 496.3,573.7 498.3,573.6 500.3,573.0 501.9,571.9 503.7,571.3 504.8,570.1 505.7,568.7 507.7,566.7 509.2,565.4 511.0,564.7 512.6,564.1 514.3,564.3 516.1,564.3 517.7,563.7 519.7,562.3 520.5,561.0 521.7,560.0 522.3,558.5 523.3,557.3 524.0,555.0 526.3,553.3 527.9,552.6 529.0,551.3 530.0,549.7 531.3,548.5 532.0,547.0 532.8,545.5 534.0,544.3 536.0,543.3 538.0,544.0 540.0,543.0 542.0,541.7 544.0,540.7 545.0,538.7 544.3,536.3 545.1,534.7 545.0,533.0 546.7,532.0 549.3,531.3 551.3,532.3 552.7,533.7 553.3,535.7 553.0,537.0 554.0,538.0 556.0,537.7 558.0,537.0 559.3,537.7 560.7,538.3 562.0,539.0 563.3,540.3 564.7,542.3 565.3,545.0 565.7,547.7 566.0,545.7 566.7,543.7 568.0,542.7 570.0,542.0 571.3,541.7 572.7,543.3 574.0,545.7 574.0,547.7 572.7,549.0 572.0,551.0 571.3,553.0 571.0,555.0 573.3,554.5 575.3,555.0 577.3,555.7 579.3,556.3 581.3,557.0 579.3,557.7 576.7,557.0 576.0,559.7 575.3,562.3 574.7,564.3 572.7,564.3 570.0,564.0 571.3,565.0 573.3,565.0 575.3,565.0 577.0,564.8 578.7,564.3 580.0,565.7 579.3,567.7 580.8,568.8 582.0,570.3 583.5,571.4 585.3,571.7 583.3,573.7 582.9,575.0 583.4,577.9 584.4,579.7 585.7,581.3 585.7,582.9 586.1,584.4 586.8,585.9 587.4,587.4 587.7,588.9 588.0,590.4 588.8,591.8 589.4,593.3 589.7,594.9 591.2,596.4 592.0,598.3 592.5,599.8 592.6,601.4 593.1,602.9 593.2,604.7 592.5,606.3 591.5,607.9 590.8,609.7 590.4,611.4 589.7,613.1 588.7,614.6 587.4,615.9 585.1,617.6 583.5,619.1 582.3,621.0 581.2,622.7 580.0,624.4 579.6,626.2 578.9,627.8 578.9,629.3 578.7,630.9 578.9,632.4 579.7,633.8 579.2,635.5 580.0,636.9 581.5,638.4 582.3,640.3 583.6,641.6 585.1,642.6 585.4,644.1 586.3,645.4 585.8,647.6 584.6,649.4 584.2,651.0 584.4,652.7 584.1,654.3 584.0,656.0" fill="none" stroke="#000" stroke-width="1.15" stroke-linejoin="round"/>
<polygon points="560.5,358.3 562.5,357.8 564.3,357.7 565.3,358.7 566.0,360.7 566.3,363.3 566.7,366.0 567.2,367.6 567.3,369.3 568.0,372.0 568.5,373.6 568.3,375.3 568.4,377.0 568.7,378.7 568.7,380.7 568.0,382.7 567.0,384.7 566.3,387.3 566.0,390.0 565.7,392.7 566.3,394.7 567.3,396.7 568.5,399.0 570.0,401.5 571.5,404.0 572.1,406.0 572.0,408.0 572.0,410.0 572.0,412.0 572.1,414.0 572.0,416.0 572.4,418.0 572.0,420.0 572.1,421.7 572.3,423.3 573.2,424.9 573.3,426.7 573.6,428.7 573.7,430.7 573.9,432.7 573.3,434.7 573.7,436.7 573.3,438.7 573.4,440.7 573.3,442.7 572.9,444.8 573.0,447.0 572.5,448.8 571.7,450.4 570.7,452.0 569.6,453.6 568.7,455.3 567.4,456.6 566.7,458.3 565.6,459.6 564.7,461.0 563.8,462.2 562.7,463.3 562.3,466.0 561.7,468.0 562.0,470.0 562.3,471.7 561.5,473.3 561.7,475.0 562.3,477.7 562.0,480.3 562.3,482.0 562.3,483.7 562.3,486.3 561.7,489.0 561.0,491.0 560.3,493.0 558.3,494.7 556.3,495.3 554.3,496.3 553.7,498.0 555.0,499.0 557.0,497.7 559.0,498.7 558.3,501.0 556.3,503.0 554.3,504.3 553.0,505.7 553.0,508.3 552.7,511.0 551.7,513.0 552.3,514.3 551.0,515.0 549.7,514.3 549.0,516.3 547.8,517.3 546.3,517.7 543.7,518.0 541.0,518.3 540.3,517.0 541.3,515.0 540.3,513.3 538.3,512.3 537.7,511.0 536.0,511.3 534.3,511.0 531.7,509.7 529.0,508.7 526.3,507.7 524.9,507.0 523.7,506.0 522.0,504.3 519.7,503.0 517.7,501.0 516.7,499.0 517.7,497.0 518.0,495.0 519.7,493.7 521.4,493.5 523.0,492.7 525.0,491.0 526.3,489.7 524.3,489.0 522.6,489.1 521.0,488.7 519.4,488.3 517.7,488.0 517.0,486.3 515.0,485.0 513.3,485.2 511.7,485.7 509.9,485.0 508.3,484.0 509.7,483.0 510.7,481.7 511.7,480.3 512.3,478.3 515.0,477.0 516.7,474.7 517.3,472.0 518.3,469.3 517.0,467.3 515.0,466.0 513.0,467.3 510.3,468.0 508.7,468.5 507.0,468.3 504.7,468.7 504.5,467.0 505.0,465.3 503.7,462.7 506.3,461.3 507.5,459.9 509.1,459.1 510.3,457.8 511.7,456.7 512.9,455.7 514.3,455.0 514.3,453.3 512.3,451.3 511.7,449.3 510.3,447.7 507.7,448.0 505.7,446.7 503.0,446.0 501.0,444.0 501.7,442.0 501.3,439.3 501.0,436.7 499.7,435.7 501.4,435.7 503.0,435.5 504.5,435.2 506.0,435.0 507.4,434.1 509.0,433.5 510.3,432.3 510.0,431.0 508.7,429.7 506.3,429.0 504.0,427.7 505.0,425.7 503.0,425.7 500.3,425.7 499.7,423.7 500.0,421.7 501.7,420.3 503.7,419.0 505.7,418.0 507.3,417.0 507.7,414.7 508.7,412.7 508.0,411.0 508.3,408.7 509.7,407.0 512.3,405.7 513.8,405.2 515.0,404.3 516.3,403.0 517.7,401.7 518.3,399.3 521.0,398.7 523.7,397.7 525.7,396.7 527.7,395.7 530.3,396.0 533.0,395.3 535.7,394.0 537.0,392.3 537.7,390.0 539.3,388.3 541.3,387.0 544.0,386.3 546.7,387.0 548.7,386.3 550.7,387.3 552.0,389.3 553.3,391.3 554.7,392.0 556.3,390.0 557.3,388.0 558.3,386.0 558.0,383.3 557.7,380.7 556.7,378.7 555.7,376.7 556.3,375.3 557.0,373.3 556.3,370.7 557.3,369.3 559.0,367.3 558.7,364.7 559.3,362.9 559.5,361.0 560.5,358.3" fill="none" stroke="#000" stroke-width="1.15" stroke-linejoin="round"/>
<polygon points="613.7,380.0 614.7,378.7 617.3,378.3 620.0,378.7 622.7,380.3 624.3,379.3 625.3,376.7 627.3,377.7 630.0,377.7 631.3,378.7 633.0,377.3 634.7,374.7 636.3,372.3 638.0,374.0 638.0,378.0 637.3,381.3 635.7,383.3 637.0,385.3 637.3,388.0 635.3,388.3 633.7,387.0 632.7,384.7 631.3,383.7 628.7,384.0 626.7,385.0 624.7,384.7 622.7,386.0 620.0,386.3 617.3,386.3 615.3,385.3 614.0,383.3 613.3,381.3" fill="none" stroke="#000" stroke-width="1.15" stroke-linejoin="round"/>
<polygon points="475.0,556.7 475.7,554.7 476.3,553.0 478.0,551.3 479.3,549.3 480.0,546.7 481.7,545.3 483.3,545.0 485.0,547.3 484.3,550.0 483.0,551.3 481.0,550.7 479.7,552.0 478.3,554.0 479.0,556.7 477.0,557.3" fill="none" stroke="#000" stroke-width="1.15" stroke-linejoin="round"/>
<polygon points="591.7,356.7 592.0,354.7 593.0,353.0 594.3,351.8 595.7,354.3 594.7,356.0 593.0,358.0 591.7,358.3" fill="none" stroke="#000" stroke-width="1.15" stroke-linejoin="round"/>
<polygon points="613.6,401.0 613.3,401.7 612.5,402.2 611.4,402.4 610.3,402.2 609.5,401.7 609.2,401.0 609.5,400.3 610.3,399.8 611.4,399.6 612.5,399.8 613.3,400.3" fill="none" stroke="#000" stroke-width="1.15" stroke-linejoin="round"/>
<polygon points="630.4,425.6 630.2,426.6 629.5,427.3 628.6,427.6 627.7,427.3 627.0,426.6 626.8,425.6 627.0,424.6 627.7,423.9 628.6,423.6 629.5,423.9 630.2,424.6" fill="none" stroke="#000" stroke-width="1.15" stroke-linejoin="round"/>
<polygon points="673.9,427.6 673.0,427.6 671.7,426.7 670.4,425.2 669.4,423.4 669.0,421.9 669.3,421.0 670.2,421.0 671.5,421.9 672.8,423.4 673.8,425.2 674.2,426.7" fill="none" stroke="#000" stroke-width="1.15" stroke-linejoin="round"/>
<polygon points="325.7,359.3 328.0,358.3 330.0,357.7 331.7,356.7 332.3,358.7 330.7,359.7 328.7,361.0 326.7,360.3" fill="none" stroke="#000" stroke-width="1.15" stroke-linejoin="round"/>
<polygon points="320.0,355.5 323.0,355.2 326.3,356.0 323.0,356.9 320.0,356.8" fill="none" stroke="#000" stroke-width="1.15" stroke-linejoin="round"/>
<polygon points="345.3,359.0 346.7,356.3 348.7,354.7 350.7,354.3 351.0,355.3 349.3,356.3 347.3,358.0 346.0,359.3" fill="none" stroke="#000" stroke-width="1.15" stroke-linejoin="round"/>
<polygon points="310.4,352.0 310.2,352.6 309.5,353.0 308.6,353.1 307.7,353.0 307.0,352.6 306.8,352.0 307.0,351.4 307.7,351.0 308.6,350.9 309.5,351.0 310.2,351.4" fill="none" stroke="#000" stroke-width="1.15" stroke-linejoin="round"/>
<polygon points="560.7,533.7 562.7,530.3 564.7,531.7 564.3,534.3 562.7,535.7 560.7,535.0" fill="none" stroke="#000" stroke-width="1.15" stroke-linejoin="round"/>
<polygon points="566.0,533.0 568.3,534.7 567.7,538.3 566.3,539.7 566.0,535.7" fill="none" stroke="#000" stroke-width="1.15" stroke-linejoin="round"/>
<polygon points="418.8,285.1 418.0,285.9 417.0,286.4 416.2,286.2 415.6,285.5 415.5,284.5 415.8,283.3 416.6,282.5 417.6,282.0 418.4,282.2 419.0,282.9 419.1,283.9" fill="none" stroke="#000" stroke-width="1.15" stroke-linejoin="round"/>
<polyline points="241.5,319.1 244.7,319.1" stroke="#000" stroke-width="1.2"/>
<polyline points="611.9,399.6 612,397.3" stroke="#000" stroke-width="1.1"/>
<polygon points="348.3,203.0 343.0,203.6 338.4,204.8 335.6,206.8 334.5,209.6 336.2,211.1 341.3,211.5 337.2,210.2 336.8,208.6 339.0,206.4 343.5,204.5 348.3,203.6" fill="#0000ff" stroke="#000" stroke-width="1.1" stroke-linejoin="round"/>
<polygon points="693.0,411.4 694.4,412.6 696.0,414.4 694.0,415.4 692.4,414.6 692.6,413.0" fill="#0000ff" stroke="#000" stroke-width="1" stroke-linejoin="round"/>
<polygon points="533.8,577.5 536.0,578.3 538.3,580.3 537.0,581.0 535.5,582.5 534.5,580.0" fill="#0000ff" stroke="#000" stroke-width="1" stroke-linejoin="round"/>
<polygon points="526.0,638.5 528.5,637.6 530.8,638.6 529.0,640.2 527.5,643.3 526.2,641.0" fill="#0000ff" stroke="#000" stroke-width="1" stroke-linejoin="round"/>
<ellipse cx="747" cy="400.5" rx="5.2" ry="5.8" fill="#0000ff" stroke="#000" stroke-width="1"/>
<line x1="241.00" y1="652.3" x2="241.00" y2="156" stroke="#000" stroke-opacity="0.55" stroke-width="1" stroke-dasharray="2.082 2.082"/>
<line x1="277.50" y1="652.3" x2="277.50" y2="156" stroke="#000" stroke-opacity="0.55" stroke-width="1" stroke-dasharray="2.082 2.082"/>
<line x1="313.99" y1="652.3" x2="313.99" y2="156" stroke="#000" stroke-opacity="0.55" stroke-width="1" stroke-dasharray="2.082 2.082"/>
<line x1="350.49" y1="652.3" x2="350.49" y2="156" stroke="#000" stroke-opacity="0.55" stroke-width="1" stroke-dasharray="2.082 2.082"/>
<line x1="386.98" y1="652.3" x2="386.98" y2="156" stroke="#000" stroke-opacity="0.55" stroke-width="1" stroke-dasharray="2.082 2.082"/>
<line x1="423.48" y1="652.3" x2="423.48" y2="156" stroke="#000" stroke-opacity="0.55" stroke-width="1" stroke-dasharray="2.082 2.082"/>
<line x1="459.97" y1="652.3" x2="459.97" y2="156" stroke="#000" stroke-opacity="0.55" stroke-width="1" stroke-dasharray="2.082 2.082"/>
<line x1="496.46" y1="652.3" x2="496.46" y2="156" stroke="#000" stroke-opacity="0.55" stroke-width="1" stroke-dasharray="2.082 2.082"/>
<line x1="532.96" y1="652.3" x2="532.96" y2="156" stroke="#000" stroke-opacity="0.55" stroke-width="1" stroke-dasharray="2.082 2.082"/>
<line x1="569.45" y1="652.3" x2="569.45" y2="156" stroke="#000" stroke-opacity="0.55" stroke-width="1" stroke-dasharray="2.082 2.082"/>
<line x1="605.95" y1="652.3" x2="605.95" y2="156" stroke="#000" stroke-opacity="0.55" stroke-width="1" stroke-dasharray="2.082 2.082"/>
<line x1="642.44" y1="652.3" x2="642.44" y2="156" stroke="#000" stroke-opacity="0.55" stroke-width="1" stroke-dasharray="2.082 2.082"/>
<line x1="678.94" y1="652.3" x2="678.94" y2="156" stroke="#000" stroke-opacity="0.55" stroke-width="1" stroke-dasharray="2.082 2.082"/>
<line x1="715.43" y1="652.3" x2="715.43" y2="156" stroke="#000" stroke-opacity="0.55" stroke-width="1" stroke-dasharray="2.082 2.082"/>
<line x1="751.93" y1="652.3" x2="751.93" y2="156" stroke="#000" stroke-opacity="0.55" stroke-width="1" stroke-dasharray="2.082 2.082"/>
<line x1="241" y1="652.29" x2="753" y2="652.29" stroke="#000" stroke-opacity="0.55" stroke-width="1" stroke-dasharray="2.082 2.082"/>
<line x1="241" y1="604.45" x2="753" y2="604.45" stroke="#000" stroke-opacity="0.55" stroke-width="1" stroke-dasharray="2.082 2.082"/>
<line x1="241" y1="556.25" x2="753" y2="556.25" stroke="#000" stroke-opacity="0.55" stroke-width="1" stroke-dasharray="2.082 2.082"/>
<line x1="241" y1="507.69" x2="753" y2="507.69" stroke="#000" stroke-opacity="0.55" stroke-width="1" stroke-dasharray="2.082 2.082"/>
<line x1="241" y1="458.74" x2="753" y2="458.74" stroke="#000" stroke-opacity="0.55" stroke-width="1" stroke-dasharray="2.082 2.082"/>
<line x1="241" y1="409.42" x2="753" y2="409.42" stroke="#000" stroke-opacity="0.55" stroke-width="1" stroke-dasharray="2.082 2.082"/>
<line x1="241" y1="359.69" x2="753" y2="359.69" stroke="#000" stroke-opacity="0.55" stroke-width="1" stroke-dasharray="2.082 2.082"/>
<line x1="241" y1="309.56" x2="753" y2="309.56" stroke="#000" stroke-opacity="0.55" stroke-width="1" stroke-dasharray="2.082 2.082"/>
<line x1="241" y1="259.02" x2="753" y2="259.02" stroke="#000" stroke-opacity="0.55" stroke-width="1" stroke-dasharray="2.082 2.082"/>
<line x1="241" y1="208.04" x2="753" y2="208.04" stroke="#000" stroke-opacity="0.55" stroke-width="1" stroke-dasharray="2.082 2.082"/>
<line x1="241" y1="156.63" x2="753" y2="156.63" stroke="#000" stroke-opacity="0.55" stroke-width="1" stroke-dasharray="2.082 2.082"/>
<path d="M559.50,354.90 L560.71,358.63 L564.64,358.63 L561.46,360.94 L562.67,364.67 L559.50,362.36 L556.33,364.67 L557.54,360.94 L554.36,358.63 L558.29,358.63Z" fill="#ffff00" stroke="#008000" stroke-width="1.25" stroke-linejoin="bevel"/>
<path d="M512.40,397.20 L513.61,400.93 L517.54,400.93 L514.36,403.24 L515.57,406.97 L512.40,404.66 L509.23,406.97 L510.44,403.24 L507.26,400.93 L511.19,400.93Z" fill="#ffff00" stroke="#008000" stroke-width="1.25" stroke-linejoin="bevel"/>
<path d="M534.60,399.80 L535.81,403.53 L539.74,403.53 L536.56,405.84 L537.77,409.57 L534.60,407.26 L531.43,409.57 L532.64,405.84 L529.46,403.53 L533.39,403.53Z" fill="#ffff00" stroke="#008000" stroke-width="1.25" stroke-linejoin="bevel"/>
<path d="M568.40,394.80 L569.61,398.53 L573.54,398.53 L570.36,400.84 L571.57,404.57 L568.40,402.26 L565.23,404.57 L566.44,400.84 L563.26,398.53 L567.19,398.53Z" fill="#ffff00" stroke="#008000" stroke-width="1.25" stroke-linejoin="bevel"/>
<path d="M557.40,409.80 L558.61,413.53 L562.54,413.53 L559.36,415.84 L560.57,419.57 L557.40,417.26 L554.23,419.57 L555.44,415.84 L552.26,413.53 L556.19,413.53Z" fill="#ffff00" stroke="#008000" stroke-width="1.25" stroke-linejoin="bevel"/>
<path d="M540.40,420.80 L541.61,424.53 L545.54,424.53 L542.36,426.84 L543.57,430.57 L540.40,428.26 L537.23,430.57 L538.44,426.84 L535.26,424.53 L539.19,424.53Z" fill="#ffff00" stroke="#008000" stroke-width="1.25" stroke-linejoin="bevel"/>
<path d="M508.40,431.20 L509.61,434.93 L513.54,434.93 L510.36,437.24 L511.57,440.97 L508.40,438.66 L505.23,440.97 L506.44,437.24 L503.26,434.93 L507.19,434.93Z" fill="#ffff00" stroke="#008000" stroke-width="1.25" stroke-linejoin="bevel"/>
<path d="M573.40,441.60 L574.61,445.33 L578.54,445.33 L575.36,447.64 L576.57,451.37 L573.40,449.06 L570.23,451.37 L571.44,447.64 L568.26,445.33 L572.19,445.33Z" fill="#ffff00" stroke="#008000" stroke-width="1.25" stroke-linejoin="bevel"/>
<path d="M510.60,453.20 L511.81,456.93 L515.74,456.93 L512.56,459.24 L513.77,462.97 L510.60,460.66 L507.43,462.97 L508.64,459.24 L505.46,456.93 L509.39,456.93Z" fill="#ffff00" stroke="#008000" stroke-width="1.25" stroke-linejoin="bevel"/>
<path d="M537.40,449.80 L538.61,453.53 L542.54,453.53 L539.36,455.84 L540.57,459.57 L537.40,457.26 L534.23,459.57 L535.44,455.84 L532.26,453.53 L536.19,453.53Z" fill="#ffff00" stroke="#008000" stroke-width="1.25" stroke-linejoin="bevel"/>
<path d="M546.40,468.20 L547.61,471.93 L551.54,471.93 L548.36,474.24 L549.57,477.97 L546.40,475.66 L543.23,477.97 L544.44,474.24 L541.26,471.93 L545.19,471.93Z" fill="#ffff00" stroke="#008000" stroke-width="1.25" stroke-linejoin="bevel"/>
<path d="M546.40,514.80 L547.61,518.53 L551.54,518.53 L548.36,520.84 L549.57,524.57 L546.40,522.26 L543.23,524.57 L544.44,520.84 L541.26,518.53 L545.19,518.53Z" fill="#ffff00" stroke="#008000" stroke-width="1.25" stroke-linejoin="bevel"/>
<rect x="682.8" y="388.0" width="2" height="2" fill="#20c8e6"/>
<rect x="681.6" y="388.2" width="2" height="2" fill="#20c8e6"/>
<rect x="682.2" y="391.2" width="2" height="2" fill="#20c8e6"/>
<rect x="681.6" y="394.2" width="2" height="2" fill="#20c8e6"/>
<rect x="682.6" y="394.8" width="2" height="2" fill="#20c8e6"/>
</g>
<line x1="242" y1="87.6" x2="752" y2="87.6" stroke="#777" stroke-width="1"/>
<line x1="242" y1="122.3" x2="752" y2="122.3" stroke="#777" stroke-width="1"/>
<rect x="682.8" y="85.2" width="2" height="2" fill="#20c8e6"/>
<rect x="682.4" y="95.8" width="2" height="2" fill="#20c8e6"/>
<rect x="682.2" y="98.6" width="2" height="2" fill="#20c8e6"/>
<rect x="681.0" y="100.6" width="2" height="2" fill="#20c8e6"/>
<rect x="682.8" y="102.2" width="2" height="2" fill="#20c8e6"/>
<rect x="683.9" y="104.2" width="2" height="2" fill="#20c8e6"/>
<rect x="681.7" y="106.0" width="2" height="2" fill="#20c8e6"/>
<line x1="789.6" y1="158" x2="789.6" y2="652" stroke="#777" stroke-width="1"/>
<line x1="825.4" y1="158" x2="825.4" y2="652" stroke="#777" stroke-width="1"/>
<rect x="803.1" y="388.1" width="1.8" height="1.8" fill="#20c8e6"/>
<rect x="805.1" y="388.1" width="1.8" height="1.8" fill="#20c8e6"/>
<rect x="807.6" y="388.1" width="1.8" height="1.8" fill="#20c8e6"/>
<rect x="814.6" y="391.1" width="1.8" height="1.8" fill="#20c8e6"/>
<rect x="808.1" y="394.1" width="1.8" height="1.8" fill="#20c8e6"/>
<rect x="810.1" y="394.6" width="1.8" height="1.8" fill="#20c8e6"/>
<rect x="812.1" y="393.6" width="1.8" height="1.8" fill="#20c8e6"/>
<rect x="814.1" y="394.1" width="1.8" height="1.8" fill="#20c8e6"/>
<rect x="825.5" y="388.1" width="1.8" height="1.8" fill="#20c8e6"/>
<rect x="241" y="53" width="622" height="2" fill="#000"/>
<rect x="241" y="53" width="2" height="105" fill="#000"/>
<rect x="241" y="156" width="622" height="3" fill="#000"/>
<rect x="751" y="53" width="3" height="601" fill="#000"/>
<rect x="861" y="53" width="2" height="601" fill="#000"/>
<rect x="241" y="156" width="1" height="498" fill="#000"/>
<rect x="241" y="653" width="511" height="1" fill="#000"/>
<rect x="751" y="652" width="112" height="2" fill="#000"/>
<rect x="158.5" y="690.5" width="787" height="38" fill="url(#rb)" stroke="#000" stroke-width="1"/>
<line x1="158.5" y1="729" x2="158.5" y2="732.5" stroke="#000" stroke-width="1"/>
<line x1="315.5" y1="729" x2="315.5" y2="732.5" stroke="#000" stroke-width="1"/>
<line x1="473.5" y1="729" x2="473.5" y2="732.5" stroke="#000" stroke-width="1"/>
<line x1="630.5" y1="729" x2="630.5" y2="732.5" stroke="#000" stroke-width="1"/>
<line x1="788.5" y1="729" x2="788.5" y2="732.5" stroke="#000" stroke-width="1"/>
<line x1="945.5" y1="729" x2="945.5" y2="732.5" stroke="#000" stroke-width="1"/>
<g opacity="0.999">
<text x="551" y="45.5" font-family="'DejaVu Sans', 'Liberation Sans', sans-serif" font-size="23.1" text-anchor="middle">SAETTA Realtime Lightning Mapping Array - 25/10/30</text>
<text x="219.6" y="52" font-family="'DejaVu Sans', 'Liberation Sans', sans-serif" font-size="10">15</text>
<text x="219.6" y="87.2" font-family="'DejaVu Sans', 'Liberation Sans', sans-serif" font-size="10">10</text>
<text x="219.6" y="121.9" font-family="'DejaVu Sans', 'Liberation Sans', sans-serif" font-size="10">5</text>
<text x="219.6" y="156.8" font-family="'DejaVu Sans', 'Liberation Sans', sans-serif" font-size="10">0</text>
<text x="195.6" y="104.8" font-family="'DejaVu Sans', 'Liberation Sans', sans-serif" font-size="12" text-anchor="middle">Km</text>
<text x="794" y="84.0" font-family="'DejaVu Sans', 'Liberation Sans', sans-serif" font-size="10.5" fill="#ff0000" text-anchor="middle" xml:space="preserve">6  :        9</text>
<text x="794" y="94.3" font-family="'DejaVu Sans', 'Liberation Sans', sans-serif" font-size="10.5" fill="#000" text-anchor="middle" xml:space="preserve">7  :        1</text>
<text x="794" y="104.7" font-family="'DejaVu Sans', 'Liberation Sans', sans-serif" font-size="10.5" fill="#000" text-anchor="middle" xml:space="preserve">8  :        0</text>
<text x="794" y="115.0" font-family="'DejaVu Sans', 'Liberation Sans', sans-serif" font-size="10.5" fill="#000" text-anchor="middle" xml:space="preserve">9  :        0</text>
<text x="794" y="125.3" font-family="'DejaVu Sans', 'Liberation Sans', sans-serif" font-size="10.5" fill="#000" text-anchor="middle" xml:space="preserve">10  :        0</text>
<text x="794" y="135.7" font-family="'DejaVu Sans', 'Liberation Sans', sans-serif" font-size="10.5" fill="#000" text-anchor="middle" xml:space="preserve">11  :        0</text>
<text x="794" y="146.0" font-family="'DejaVu Sans', 'Liberation Sans', sans-serif" font-size="10.5" fill="#000" text-anchor="middle" xml:space="preserve">12  :        0</text>
<text x="234.2" y="655.0" font-family="'DejaVu Sans', 'Liberation Sans', sans-serif" font-size="10" text-anchor="end">40°N</text>
<text x="234.2" y="607.1" font-family="'DejaVu Sans', 'Liberation Sans', sans-serif" font-size="10" text-anchor="end">40.5°N</text>
<text x="234.2" y="559.0" font-family="'DejaVu Sans', 'Liberation Sans', sans-serif" font-size="10" text-anchor="end">41°N</text>
<text x="234.2" y="510.4" font-family="'DejaVu Sans', 'Liberation Sans', sans-serif" font-size="10" text-anchor="end">41.5°N</text>
<text x="234.2" y="461.4" font-family="'DejaVu Sans', 'Liberation Sans', sans-serif" font-size="10" text-anchor="end">42°N</text>
<text x="234.2" y="412.1" font-family="'DejaVu Sans', 'Liberation Sans', sans-serif" font-size="10" text-anchor="end">42.5°N</text>
<text x="234.2" y="362.4" font-family="'DejaVu Sans', 'Liberation Sans', sans-serif" font-size="10" text-anchor="end">43°N</text>
<text x="234.2" y="312.3" font-family="'DejaVu Sans', 'Liberation Sans', sans-serif" font-size="10" text-anchor="end">43.5°N</text>
<text x="234.2" y="261.7" font-family="'DejaVu Sans', 'Liberation Sans', sans-serif" font-size="10" text-anchor="end">44°N</text>
<text x="234.2" y="210.7" font-family="'DejaVu Sans', 'Liberation Sans', sans-serif" font-size="10" text-anchor="end">44.5°N</text>
<text x="241.5" y="667.3" font-family="'DejaVu Sans', 'Liberation Sans', sans-serif" font-size="10" text-anchor="middle">5°E</text>
<text x="278.0" y="667.3" font-family="'DejaVu Sans', 'Liberation Sans', sans-serif" font-size="10" text-anchor="middle">5.5°E</text>
<text x="314.5" y="667.3" font-family="'DejaVu Sans', 'Liberation Sans', sans-serif" font-size="10" text-anchor="middle">6°E</text>
<text x="351.0" y="667.3" font-family="'DejaVu Sans', 'Liberation Sans', sans-serif" font-size="10" text-anchor="middle">6.5°E</text>
<text x="387.5" y="667.3" font-family="'DejaVu Sans', 'Liberation Sans', sans-serif" font-size="10" text-anchor="middle">7°E</text>
<text x="424.0" y="667.3" font-family="'DejaVu Sans', 'Liberation Sans', sans-serif" font-size="10" text-anchor="middle">7.5°E</text>
<text x="460.5" y="667.3" font-family="'DejaVu Sans', 'Liberation Sans', sans-serif" font-size="10" text-anchor="middle">8°E</text>
<text x="497.0" y="667.3" font-family="'DejaVu Sans', 'Liberation Sans', sans-serif" font-size="10" text-anchor="middle">8.5°E</text>
<text x="533.5" y="667.3" font-family="'DejaVu Sans', 'Liberation Sans', sans-serif" font-size="10" text-anchor="middle">9°E</text>
<text x="570.0" y="667.3" font-family="'DejaVu Sans', 'Liberation Sans', sans-serif" font-size="10" text-anchor="middle">9.5°E</text>
<text x="606.5" y="667.3" font-family="'DejaVu Sans', 'Liberation Sans', sans-serif" font-size="10" text-anchor="middle">10°E</text>
<text x="642.9" y="667.3" font-family="'DejaVu Sans', 'Liberation Sans', sans-serif" font-size="10" text-anchor="middle">10.5°E</text>
<text x="679.4" y="667.3" font-family="'DejaVu Sans', 'Liberation Sans', sans-serif" font-size="10" text-anchor="middle">11°E</text>
<text x="715.9" y="667.3" font-family="'DejaVu Sans', 'Liberation Sans', sans-serif" font-size="10" text-anchor="middle">11.5°E</text>
<text x="752.6" y="666.8" font-family="'DejaVu Sans', 'Liberation Sans', sans-serif" font-size="10">0</text>
<text x="789.0" y="666.8" font-family="'DejaVu Sans', 'Liberation Sans', sans-serif" font-size="10">5</text>
<text x="825.4" y="666.8" font-family="'DejaVu Sans', 'Liberation Sans', sans-serif" font-size="10">10</text>
<text x="862.0" y="666.8" font-family="'DejaVu Sans', 'Liberation Sans', sans-serif" font-size="10">15</text>
<text x="816.5" y="675.7" font-family="'DejaVu Sans', 'Liberation Sans', sans-serif" font-size="12" text-anchor="middle">Km</text>
<text x="158.5" y="742.6" font-family="'DejaVu Sans', 'Liberation Sans', sans-serif" font-size="10" text-anchor="middle">0</text>
<text x="315.9" y="742.6" font-family="'DejaVu Sans', 'Liberation Sans', sans-serif" font-size="10" text-anchor="middle">2</text>
<text x="473.3" y="742.6" font-family="'DejaVu Sans', 'Liberation Sans', sans-serif" font-size="10" text-anchor="middle">4</text>
<text x="630.7" y="742.6" font-family="'DejaVu Sans', 'Liberation Sans', sans-serif" font-size="10" text-anchor="middle">6</text>
<text x="788.1" y="742.6" font-family="'DejaVu Sans', 'Liberation Sans', sans-serif" font-size="10" text-anchor="middle">8</text>
<text x="945.5" y="742.6" font-family="'DejaVu Sans', 'Liberation Sans', sans-serif" font-size="10" text-anchor="middle">10</text>
<text x="557.1" y="718.8" font-family="'DejaVu Sans', 'Liberation Sans', sans-serif" font-size="18.75" text-anchor="middle">from 16:20:00 to 16:29:59</text>
</g>
</svg></body></html>
